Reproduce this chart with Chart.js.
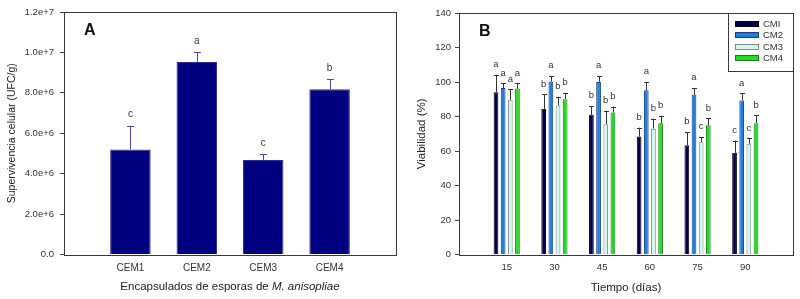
<!DOCTYPE html>
<html><head><meta charset="utf-8">
<script src="https://cdn.jsdelivr.net/npm/chart.js@4"></script>
<style>
html,body{margin:0;padding:0;background:#fff;}
#wrap{position:relative;width:800px;height:299px;overflow:hidden;background:#fff;}
canvas{position:absolute;top:0;}
#ca{left:0;} #cb{left:400px;}
</style></head><body>
<div id="wrap"><canvas id="ca" width="404" height="299"></canvas><canvas id="cb" width="400" height="299"></canvas></div>
<script>
// ---------- Panel A data ----------
const categoriesA = ['CEM1', 'CEM2', 'CEM3', 'CEM4'];
const survivalA = [5.2e6, 9.52e6, 4.68e6, 8.18e6];
const survivalErrA = [1.17e6, 0.5e6, 0.28e6, 0.48e6];
const lettersA = ['c', 'a', 'c', 'b'];
const yTickLabelsA = ['0.0', '2.0e+6', '4.0e+6', '6.0e+6', '8.0e+6', '1.0e+7', '1.2e+7'];

// ---------- Panel B data ----------
const daysB = ['15', '30', '45', '60', '75', '90'];
const seriesNamesB = ['CMI', 'CM2', 'CM3', 'CM4'];
const viabCMI = [94.1, 84.5, 81.0, 68.4, 63.4, 59.0];
const viabCM2 = [96.6, 100.3, 100.1, 95.3, 92.8, 89.3];
const viabCM3 = [89.7, 86.4, 75.6, 73.0, 65.2, 64.2];
const viabCM4 = [96.2, 90.1, 82.3, 76.2, 75.0, 76.2];
const errCMI = [10.1, 8.5, 5.2, 5.2, 7.7, 7.1];
const errCM2 = [2.8, 3.3, 3.5, 4.8, 3.8, 4.3];
const errCM3 = [6.2, 5.0, 7.9, 5.7, 3.0, 3.3];
const errCM4 = [3.2, 3.6, 3.5, 4.2, 4.1, 4.6];
const lettersCMI = ['a', 'b', 'b', 'b', 'b', 'c'];
const lettersCM2 = ['a', 'a', 'a', 'a', 'a', 'a'];
const lettersCM3 = ['a', 'b', 'b', 'b', 'c', 'c'];
const lettersCM4 = ['a', 'b', 'b', 'b', 'b', 'b'];

const FONT = "'Liberation Sans', Arial, sans-serif";
const pad = arr => [null, ...arr, null];

function framePlugin(label) {
  return {
    id: 'frame',
    afterDatasetsDraw(chart) {
      const {ctx, chartArea: a} = chart;
      ctx.save();
      ctx.strokeStyle = '#3a3a3a';
      ctx.lineWidth = 1;
      ctx.strokeRect(Math.round(a.left) + 0.5, Math.round(a.top) + 0.5,
        Math.round(a.right - a.left), Math.round(a.bottom - a.top));
      ctx.fillStyle = '#111';
      ctx.font = 'bold 16px ' + FONT;
      ctx.textBaseline = 'alphabetic';
      ctx.fillText(label, a.left + 20, a.top + 23);
      ctx.restore();
    }
  };
}

function errPlugin(errs, letters, style) {
  return {
    id: 'errbars',
    afterDatasetsDraw(chart) {
      const ctx = chart.ctx, ys = chart.scales.y;
      ctx.save();
      chart.data.datasets.forEach((ds, di) => {
        const meta = chart.getDatasetMeta(di);
        meta.data.forEach((bar, i) => {
          const v = ds.data[i];
          if (v == null) return;
          const e = errs[di][i];
          const top = ys.getPixelForValue(v + e);
          const x = Math.round(bar.x) + 0.5;
          ctx.strokeStyle = style.color;
          ctx.lineWidth = 1;
          ctx.beginPath();
          ctx.moveTo(x, bar.y);
          ctx.lineTo(x, top);
          ctx.moveTo(x - style.cap, Math.round(top) + 0.5);
          ctx.lineTo(x + style.cap, Math.round(top) + 0.5);
          ctx.stroke();
          ctx.fillStyle = '#333';
          ctx.font = style.font;
          ctx.textAlign = 'center';
          ctx.textBaseline = 'alphabetic';
          ctx.fillText(letters[di][i], bar.x, top - style.gap);
        });
      });
      ctx.restore();
    }
  };
}

const richTitleA = {
  id: 'richTitle',
  afterDraw(chart) {
    const {ctx, chartArea: a} = chart;
    ctx.save();
    const part1 = 'Encapsulados de esporas de ';
    const part2 = 'M. anisopliae';
    const f1 = '11.5px ' + FONT, f2 = 'italic 11.5px ' + FONT;
    ctx.font = f1; const w1 = ctx.measureText(part1).width;
    ctx.font = f2; const w2 = ctx.measureText(part2).width;
    const x0 = (a.left + a.right) / 2 - (w1 + w2) / 2;
    ctx.fillStyle = '#222';
    ctx.textBaseline = 'middle';
    ctx.textAlign = 'left';
    ctx.font = f1; ctx.fillText(part1, x0, 287);
    ctx.font = f2; ctx.fillText(part2, x0 + w1, 287);
    ctx.restore();
  }
};

const legendB = {
  id: 'legendBox',
  afterDraw(chart) {
    const {ctx, chartArea: a} = chart;
    ctx.save();
    const left = Math.round(a.right) - 65, top = Math.round(a.top);
    ctx.strokeStyle = '#3a3a3a';
    ctx.lineWidth = 1;
    ctx.strokeRect(left + 0.5, top + 0.5, 65, 58);
    chart.data.datasets.forEach((ds, i) => {
      const cy = top + 10.5 + i * 11.6;
      ctx.fillStyle = ds.backgroundColor;
      ctx.fillRect(left + 7, Math.round(cy - 3), 24, 6);
      ctx.strokeStyle = ds.borderColor;
      ctx.strokeRect(left + 7.5, Math.round(cy - 3) + 0.5, 23, 5);
      ctx.fillStyle = '#333';
      ctx.font = '9.5px ' + FONT;
      ctx.textBaseline = 'middle';
      ctx.fillText(ds.label, left + 35, cy + 0.5);
    });
    ctx.restore();
  }
};

// ---------- Chart A ----------
new Chart(document.getElementById('ca'), {
  type: 'bar',
  data: {
    labels: pad(categoriesA).map(v => v == null ? '' : v),
    datasets: [{
      label: 'Supervivencia',
      data: pad(survivalA),
      backgroundColor: '#000080',
      borderColor: '#2c2c98',
      borderWidth: 1,
      barPercentage: 0.61,
      categoryPercentage: 1
    }]
  },
  options: {
    responsive: false,
    animation: false,
    devicePixelRatio: 1,
    layout: {padding: {top: 12, right: 2, left: 0, bottom: 0}},
    plugins: {legend: {display: false}, tooltip: {enabled: false}},
    scales: {
      x: {
        type: 'category', offset: false,
        grid: {display: false, drawTicks: false},
        border: {display: false},
        ticks: {padding: 8, autoSkip: false, maxRotation: 0, color: '#333', font: {family: FONT, size: 10}},
        afterFit(s) { s.height = 44.5; }
      },
      y: {
        min: 0, max: 1.2e7,
        ticks: {stepSize: 2e6, callback: (v, i) => yTickLabelsA[i], padding: 6, color: '#333', font: {family: FONT, size: 9.5}},
        grid: {drawOnChartArea: false, drawTicks: true, tickLength: 4, color: '#444'},
        border: {display: false},
        title: {display: true, text: 'Supervivencia celular (UFC/g)', color: '#222', font: {family: FONT, size: 10.5}, padding: {top: 6, bottom: 0}},
        afterFit(s) { s.width = 64; }
      }
    }
  },
  plugins: [framePlugin('A'), errPlugin([pad(survivalErrA)], [pad(lettersA)], {color: '#4848a0', cap: 3.5, gap: 8.5, font: '10px ' + FONT}), richTitleA]
});

// ---------- Chart B ----------
const colorsB = [
  {bg: '#00004a', bd: '#000000'},
  {bg: '#1f7fe0', bd: '#173f80'},
  {bg: '#d6f7ec', bd: '#7c8c88'},
  {bg: '#1fe01f', bd: '#1f7a1f'}
];
const seriesB = [viabCMI, viabCM2, viabCM3, viabCM4];
const errsB = [errCMI, errCM2, errCM3, errCM4].map(pad);
const lettersB = [lettersCMI, lettersCM2, lettersCM3, lettersCM4].map(pad);

new Chart(document.getElementById('cb'), {
  type: 'bar',
  data: {
    labels: ['', ...daysB, ''],
    datasets: seriesB.map((s, i) => ({
      label: seriesNamesB[i],
      data: pad(s),
      backgroundColor: colorsB[i].bg,
      borderColor: colorsB[i].bd,
      borderWidth: 1,
      barPercentage: 0.66,
      categoryPercentage: 0.6
    }))
  },
  options: {
    responsive: false,
    animation: false,
    devicePixelRatio: 1,
    layout: {padding: {top: 13, right: 2, left: 0, bottom: 0}},
    plugins: {legend: {display: false}, tooltip: {enabled: false}},
    scales: {
      x: {
        type: 'category', offset: false,
        grid: {display: false, drawTicks: false},
        border: {display: false},
        ticks: {padding: 7, autoSkip: false, maxRotation: 0, color: '#333', font: {family: FONT, size: 9.5}},
        title: {display: true, text: 'Tiempo (días)', color: '#222', font: {family: FONT, size: 11.5}, padding: {top: 0, bottom: 4}},
        afterFit(s) { s.height = 44.3; }
      },
      y: {
        min: 0, max: 140,
        ticks: {stepSize: 20, padding: 4, color: '#333', font: {family: FONT, size: 9.5}},
        grid: {drawOnChartArea: false, drawTicks: true, tickLength: 4, color: '#444'},
        border: {display: false},
        title: {display: true, text: 'Viabilidad (%)', color: '#222', font: {family: FONT, size: 11.5}, padding: {top: 15, bottom: 0}},
        afterFit(s) { s.width = 59; }
      }
    }
  },
  plugins: [framePlugin('B'), errPlugin(errsB, lettersB, {color: '#333', cap: 2.5, gap: 7.5, font: '9.5px ' + FONT}), legendB]
});
</script>
</body></html>
